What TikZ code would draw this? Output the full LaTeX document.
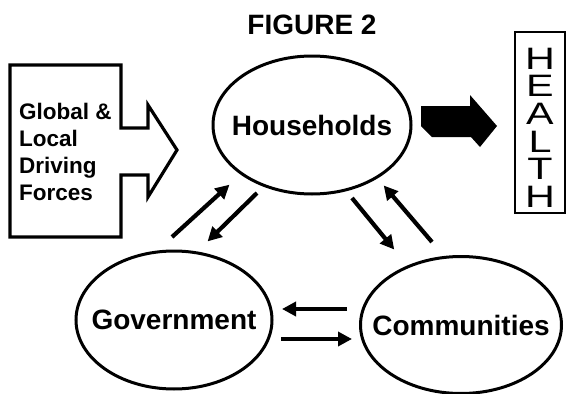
\documentclass[tikz,border=0pt]{standalone}
\usepackage{fontspec}
\setmainfont{Liberation Sans}
\usetikzlibrary{shapes.geometric,arrows.meta}
\begin{document}
\begin{tikzpicture}[x=1pt,y=-1pt,
  ell/.style={ellipse,draw,line width=3pt,inner sep=0pt,font=\fontsize{28}{30}\selectfont\bfseries},
  conn/.style={line width=4.2pt,-{Triangle[length=14pt,width=14pt]},shorten >=-2pt},
  outl/.style={line width=3.2pt,line join=miter},
  letter/.style={inner sep=0pt,text height=21pt,text depth=0pt,font=\fontsize{29.5}{30}\selectfont}]
\useasboundingbox (0,0) rectangle (566,394);
\node[font=\fontsize{28}{30}\selectfont\bfseries] (title) at (312,25) {FIGURE 2};
% ellipses
\node[ell,minimum width=198pt,minimum height=138pt] (hh) at (312,125) {\makebox[0pt]{Households}};
\node[ell,minimum width=196pt,minimum height=138pt] (gov) at (174,320) {\makebox[0pt]{Government}};
\node[ell,minimum width=201pt,minimum height=137pt] (com) at (461,325) {\makebox[0pt]{Communities}};
% driving forces block arrow
\draw[outl] (10,65) -- (121,65) -- (121,128) -- (148,128) -- (148,105) -- (177,150)
  -- (148,197) -- (148,175) -- (121,175) -- (121,237) -- (10,237) -- cycle;
\node[anchor=west,align=left,font=\fontsize{22.5}{26.7}\selectfont\bfseries,inner sep=0pt] (forces) at (19,152)
  {Global \&\\Local\\Driving\\Forces};
% black arrow
\fill (421,106) -- (470,106) -- (470,95) -- (497,126) -- (480,147) -- (471,137)
  -- (432,137) -- (421,126) -- cycle;
% health box
\node[draw,line width=2.8pt,minimum width=50pt,minimum height=181pt,inner sep=0pt] (hbox) at (540,122.5) {};
\node[letter] (h1) at (540,58.5) {\scalebox{1.4}[1.05]{H}};
\node[letter] (h2) at (540,86.2) {\scalebox{1.4}[1.05]{E}};
\node[letter] (h3) at (540,113.9) {\scalebox{1.4}[1.05]{A}};
\node[letter] (h4) at (540,141.6) {\scalebox{1.4}[1.05]{L}};
\node[letter] (h5) at (540,169.3) {\scalebox{1.4}[1.05]{T}};
\node[letter] (h6) at (540,197) {\scalebox{1.4}[1.05]{H}};
% connector end points
\coordinate (a1s) at (172,237); \coordinate (a1e) at (228,186);
\coordinate (a2s) at (257,193); \coordinate (a2e) at (209,240);
\coordinate (a3s) at (352,198); \coordinate (a3e) at (393,248);
\coordinate (a4s) at (432,242); \coordinate (a4e) at (385,187);
\coordinate (a5s) at (347,309); \coordinate (a5e) at (284,309);
\coordinate (a6s) at (281,339); \coordinate (a6e) at (350,339);
\draw[conn] (a1s) -- (a1e);
\draw[conn] (a2s) -- (a2e);
\draw[conn] (a3s) -- (a3e);
\draw[conn] (a4s) -- (a4e);
\draw[conn] (a5s) -- (a5e);
\draw[conn] (a6s) -- (a6e);
\end{tikzpicture}
\end{document}
